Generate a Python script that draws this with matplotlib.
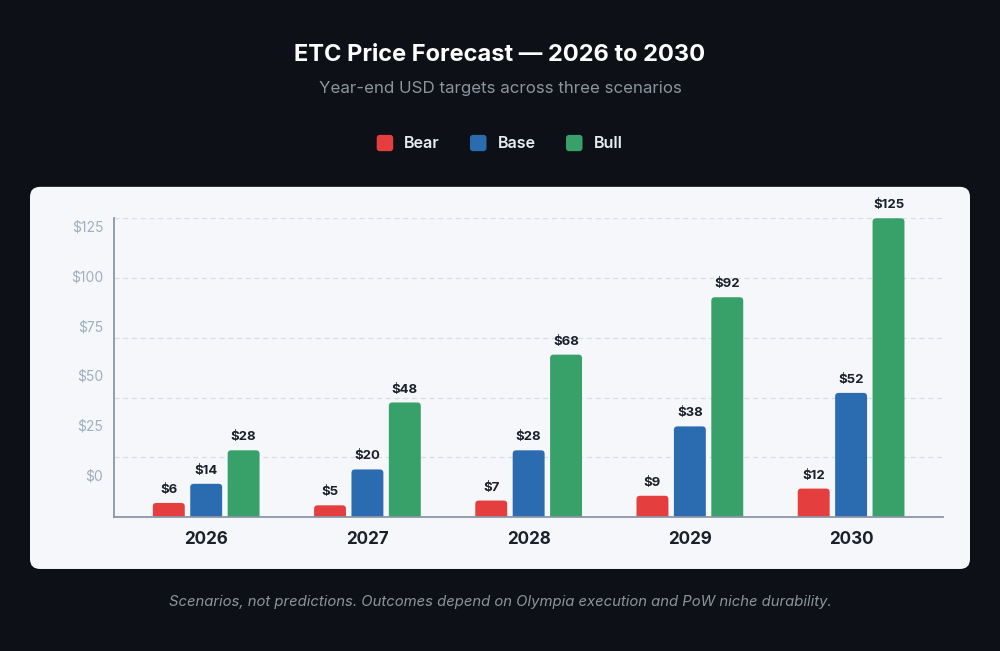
import matplotlib
matplotlib.use("Agg")
import matplotlib.pyplot as plt
from matplotlib.patches import FancyBboxPatch
import numpy as np

plt.rcParams['font.family'] = ['Inter', 'DejaVu Sans']

# data
years = ["2026", "2027", "2028", "2029", "2030"]
scenarios = ["Bear", "Base", "Bull"]
bear = [6, 5, 7, 9, 12]
base = [14, 20, 28, 38, 52]
bull = [28, 48, 68, 92, 125]
colors = ["#e53e3e", "#2b6cb0", "#38a169"]
y_ticks = [0, 25, 50, 75, 100, 125]

BG = "#0d1117"
CARD = "#f5f7fa"

fig = plt.figure(figsize=(10, 6.51), dpi=100, facecolor=BG)

# light card behind the chart
card = FancyBboxPatch((0.03, 0.126), 0.94, 0.587, boxstyle="round,pad=0,rounding_size=0.01",
                      mutation_aspect=1000 / 651, transform=fig.transFigure,
                      facecolor=CARD, edgecolor="none", zorder=-10)
fig.patches.append(card)

fig.text(0.5, 0.9155, "ETC Price Forecast \u2014 2026 to 2030", ha="center", va="center",
         color="white", fontsize=17, fontweight="bold")
fig.text(0.5, 0.8648, "Year-end USD targets across three scenarios", ha="center", va="center",
         color="#8b949e", fontsize=12.2)
fig.text(0.5, 0.0753, "Scenarios, not predictions. Outcomes depend on Olympia execution and PoW niche durability.",
         ha="center", va="center", color="#8b949e", fontsize=10.7, style="italic")

# legend drawn by hand
legend_x = [0.3767, 0.470, 0.566]
for name, col, lx in zip(scenarios, colors, legend_x):
    sq = FancyBboxPatch((lx, 0.7803 - 0.0125), 0.0165, 0.025,
                        boxstyle="round,pad=0,rounding_size=0.003", mutation_aspect=1000 / 651,
                        transform=fig.transFigure, facecolor=col, edgecolor="none")
    fig.patches.append(sq)
    fig.text(lx + 0.0275, 0.7803, name, ha="left", va="center", color="#e6edf3",
             fontsize=11.6, fontweight="semibold")

ax = fig.add_axes([0.1143, 0.2054, 0.8287, 0.4593], zorder=2)
ax.set_facecolor("none")
ax.set_xlim(-0.57, 4.57)
ax.set_ylim(0, 125)

x = np.arange(len(years))
width = 0.198
step = 0.232
px_x = 1000 * 0.8287 / (4.57 + 0.57)
px_y = 651 * 0.4593 / 125
for i, (vals, col) in enumerate(zip([bear, base, bull], colors)):
    for xi, v in zip(x, vals):
        cx = xi + (i - 1) * step
        bar = FancyBboxPatch((cx - width / 2, -3), width, v + 3,
                             boxstyle="round,pad=0,rounding_size=%f" % (3.5 / px_x),
                             mutation_aspect=px_x / px_y, facecolor=col, edgecolor="none",
                             zorder=3)
        ax.add_patch(bar)
        ax.annotate("$%d" % v, (cx, v), xytext=(0, 5), textcoords="offset points",
                    ha="center", va="bottom", fontsize=9.5, fontweight="bold",
                    color="#1a202c", annotation_clip=False)

# dashed gridlines
for t in y_ticks[1:]:
    ax.axhline(t, color="#d9dee6", linestyle=(0, (4, 3)), linewidth=0.9, zorder=1)

# y labels sit a bit off the gridlines, as in the source picture
label_pos = [17.7 + t * 0.8326 for t in y_ticks]
ax.set_yticks(label_pos)
ax.set_yticklabels(["$%d" % t for t in y_ticks])
ax.tick_params(axis="y", length=0, pad=8, labelsize=10, labelcolor="#a0aec0")

ax.set_xticks(x)
ax.set_xticklabels(years)
ax.tick_params(axis="x", length=0, pad=10, labelsize=12.3, labelcolor="#1a202c")
for lbl in ax.get_xticklabels():
    lbl.set_fontweight("bold")

for s in ["top", "right"]:
    ax.spines[s].set_visible(False)
for s in ["left", "bottom"]:
    ax.spines[s].set_color("#8b96a8")
    ax.spines[s].set_linewidth(1.3)
    ax.spines[s].set_zorder(4)

fig.savefig("out.png", dpi=100, facecolor=BG)
